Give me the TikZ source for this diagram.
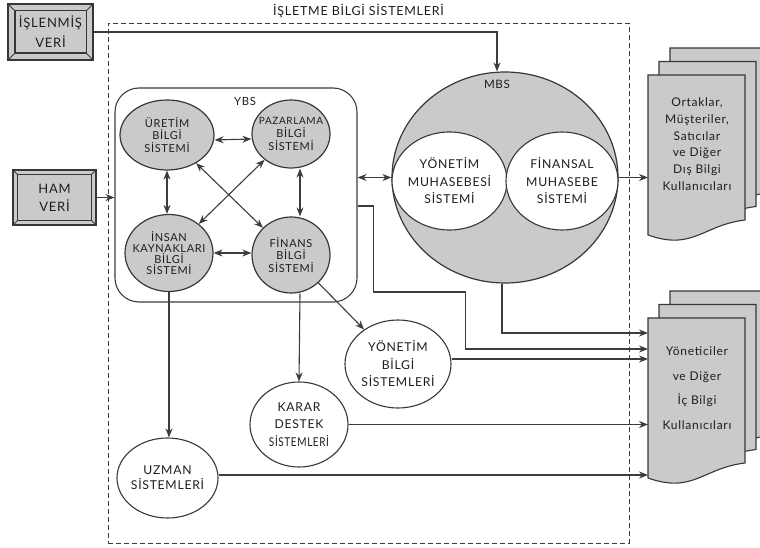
\documentclass[tikz,border=0pt]{standalone}
\usepackage{fontspec}
\setmainfont{Lato}[LetterSpace=6]
\usepackage{graphicx}
\usepackage{tikz}
\usetikzlibrary{shapes.geometric, arrows.meta, positioning, calc}
\definecolor{cardbg}{RGB}{202,202,202}
\definecolor{border}{RGB}{55,55,55}
\definecolor{wire}{RGB}{60,60,60}
\definecolor{ink}{RGB}{30,30,30}
\tikzset{
    subsys/.style={ellipse, draw=border, line width=1.2pt, fill=cardbg, inner sep=0pt,
        label={[align=center, text=ink, font=\fontsize{11}{12.8}\selectfont]center:#1}},
    tool/.style={ellipse, draw=border, line width=1.1pt, fill=white, inner sep=0pt,
        label={[align=center, text=ink, font=\fontsize{12.2}{17.5}\selectfont]center:#1}},
    datain/.style={rectangle, draw=border, line width=1.1pt, fill=cardbg, align=center, text=ink},
    usertext/.style={align=center, text=ink},
    arrow/.style={draw=wire, line width=1.1pt, -{Stealth[length=9pt, width=7pt]}},
    twoway/.style={draw=wire, line width=1.1pt, {Stealth[length=9pt, width=7pt]}-{Stealth[length=9pt, width=7pt]}},
    sysframe/.style={draw=wire, line width=0.9pt, dash pattern=on 5pt off 3pt}
}
% beveled input box round a node
\newcommand{\bevelframe}[2]{%
    \draw[border, line width=1.1pt] ([shift={(#2,#2)}]#1.north west) rectangle ([shift={(-#2,-#2)}]#1.south east);
    \draw[border, line width=0.9pt] (#1.north west) -- ([shift={(#2,#2)}]#1.north west)
        (#1.north east) -- ([shift={(-#2,#2)}]#1.north east)
        (#1.south west) -- ([shift={(#2,-#2)}]#1.south west)
        (#1.south east) -- ([shift={(-#2,-#2)}]#1.south east);
}
% stack of three report pages, front page at #1
\newcommand{\userstack}[1]{%
    \foreach \dx/\dy in {22/-27, 11/-13.5, 0/0}
        \draw[border, line width=1.1pt, fill=cardbg, shift={(#1)}, shift={(\dx,\dy)}]
            (0,0) -- (97,0) -- (97,145) .. controls (55,150) and (45,176) .. (0,160) -- cycle;
}

\begin{document}
\begin{tikzpicture}[x=1pt, y=-1pt]
    \useasboundingbox (0,0) rectangle (760,548);
    \clip (0,0) rectangle (760,548);

    % Frame
    \node (ibs) [sysframe, minimum width=521pt, minimum height=520pt] at (368.5,283) {};
    \node (ibslbl) [above=1pt of ibs.north, xshift=-10pt, text=ink, font=\fontsize{12.5}{14}\selectfont] {İŞLETME BİLGİ SİSTEMLERİ};

    % Inputs
    \node (islenmis) [datain, minimum width=85pt, minimum height=56pt, font=\fontsize{13}{20}\selectfont] at (50.5,32) {İŞLENMİŞ\\VERİ};
    \bevelframe{islenmis}{7.5}
    \node (ham) [datain, minimum width=83pt, minimum height=55pt, font=\fontsize{13}{18}\selectfont] at (54.5,197.5) {HAM\\VERİ};
    \bevelframe{ham}{5}

    % YBS
    \node (ybs) [draw=wire, line width=1.1pt, rounded corners=24pt, minimum width=242pt, minimum height=214pt] at (236,195) {};
    \node (ybslbl) [text=ink, font=\fontsize{11.3}{13}\selectfont] at (245,101) {YBS};
    \node (uretim) [subsys={ÜRETİM\\BİLGİ\\SİSTEMİ}, minimum width=94pt, minimum height=70pt] at (167,135) {};
    \node (pazarlama) [subsys={{\fontsize{10}{12.8}\selectfont PAZARLAMA}\\BİLGİ\\SİSTEMİ}, minimum width=78pt, minimum height=68pt] at (291,134) {};
    \node (insan) [subsys={İNSAN\\[-2pt]KAYNAKLARI\\[-2pt]BİLGİ\\[-2pt]SİSTEMİ}, minimum width=88pt, minimum height=77pt] at (169,253) {};
    \node (finans) [subsys={FİNANS\\BİLGİ\\SİSTEMİ}, minimum width=78pt, minimum height=76pt] at (291,255) {};

    % MBS
    \node (mbs) [ellipse, draw=border, line width=1.2pt, fill=cardbg, minimum width=226pt, minimum height=211pt] at (505,177.5) {};
    \node (mbslbl) [text=ink, font=\fontsize{11.6}{13}\selectfont] at (497,84) {MBS};
    \node (ymuh) [tool={YÖNETİM\\MUHASEBESİ\\SİSTEMİ}, minimum width=115pt, minimum height=98pt] at (449.5,181) {};
    \node (fmuh) [tool={FİNANSAL\\MUHASEBE\\SİSTEMİ}, minimum width=112pt, minimum height=98pt] at (562,181) {};

    % Other systems
    \node (ybis) [tool={YÖNETİM\\BİLGİ\\SİSTEMLERİ}, minimum width=106pt, minimum height=88pt] at (398,364) {};
    \node (karar) [tool={KARAR\\DESTEK\\\scalebox{0.82}[1]{SİSTEMLERİ}}, minimum width=98pt, minimum height=85pt] at (299,424.5) {};
    \node (uzman) [tool={UZMAN\\[-2.5pt]SİSTEMLERİ}, minimum width=101pt, minimum height=80pt] at (167.5,478) {};

    % Users
    \coordinate (extpage) at (648,75);
    \userstack{extpage}
    \node (ortaklar) [usertext, font=\fontsize{12}{16.7}\selectfont] at ([shift={(49,69)}]extpage) {Ortaklar,\\Müşteriler,\\Satıcılar\\ve Diğer\\Dış Bilgi\\Kullanıcıları};
    \coordinate (intpage) at (648,318);
    \userstack{intpage}
    \node (kull) [usertext, font=\fontsize{12}{24.5}\selectfont] at ([shift={(49,70)}]intpage) {Yöneticiler\\ve Diğer\\İç Bilgi\\Kullanıcıları};

    % Arrows
    \draw [arrow] (islenmis.east) -| ([xshift=-8pt]mbs.north);
    \draw [arrow] (ham.east) -- (ham.east -| ybs.west);
    \draw [twoway] ([yshift=-5pt]uretim.east) -- ([yshift=-5pt]pazarlama.west);
    \draw [twoway] (uretim.south) -- (uretim.south |- insan.north);
    \draw [twoway] ([xshift=9pt]pazarlama.south) -- ([xshift=9pt]finans.north);
    \draw [twoway] (insan.east) -- (insan.east -| finans.west);
    \draw [twoway] (uretim) -- (finans);
    \draw [twoway] (pazarlama) -- (insan);
    \draw [twoway] (ybs.east |- mbs.west) -- (mbs.west);
    \draw [arrow] (mbs.east) -- (mbs.east -| extpage);
    \draw [arrow] ([xshift=-3pt]mbs.south) |- ([shift={(0,15)}]intpage);
    \draw [arrow] ([shift={(0,11)}]ybs.east) -- ++(16,0) -- ++(0,86) -- ++(92,0) |- ([shift={(0,31)}]intpage);
    \draw [arrow] ([yshift=5pt]ybis.east) -- ([yshift=5pt]ybis.east -| intpage);
    \draw [arrow] (karar.east) -- (karar.east -| intpage);
    \draw [arrow] ([yshift=3pt]uzman.east) -- ([yshift=3pt]uzman.east -| intpage);
    \draw [arrow] (finans) -- (ybis);
    \draw [arrow] ([xshift=9pt]finans.south) -- (karar.north);
    \draw [arrow] (insan.south) -- (insan.south |- uzman.north);
\end{tikzpicture}
\end{document}
